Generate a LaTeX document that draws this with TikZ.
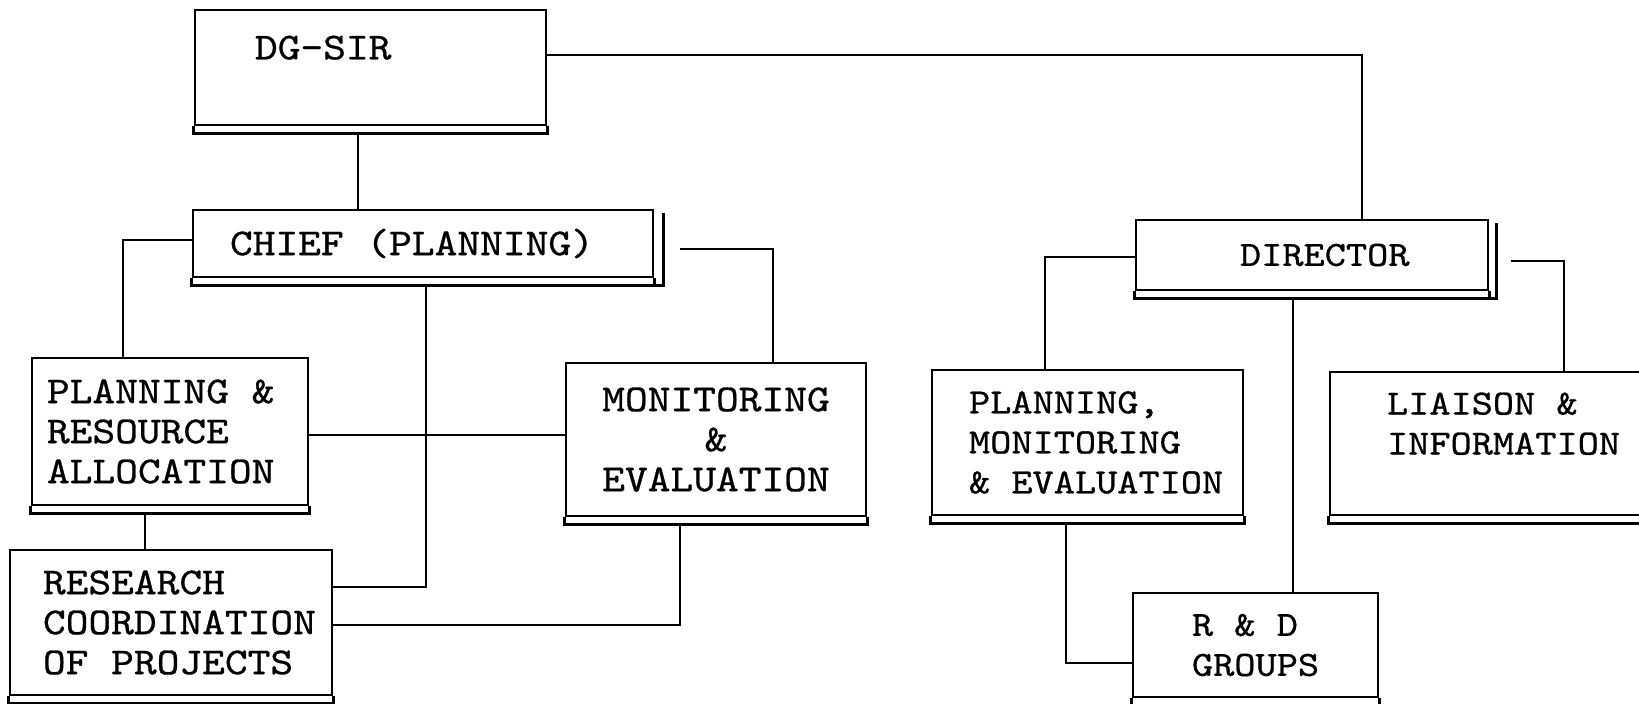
\documentclass[tikz,border=0pt]{standalone}
\usepackage{fontspec}
\newfontfamily\boxfont{lmmono10-regular.otf}[FakeStretch=1.14, FakeBold=0.8]
\usetikzlibrary{positioning}
\hyphenpenalty=10000
\exhyphenpenalty=10000
\newcommand\spc{\hspace*{\fontcharwd\font`\M}}

\tikzset{
  box/.style={draw, rectangle, line width=1.4pt, inner ysep=0pt},
  lbox/.style={box, align=left},
  cbox/.style={box, align=center},
  leftfont/.style={font={\boxfont\fontsize{19}{20}\selectfont}},
  rightfont/.style={font={\boxfont\fontsize{17.7}{20}\selectfont}}
}

\begin{document}
\begin{tikzpicture}
[x=0.5pt, y=-0.5pt, line width=1.4pt]

\useasboundingbox (0,0) rectangle (1639,703);

% Left branch:
\node[lbox, leftfont, text width=115.5pt, inner xsep=30pt, minimum height=57.5pt] (dg) at (370.5,67.5) {DG-SIR\\~};
\node[lbox, leftfont, text width=193pt, inner xsep=18.5pt, minimum height=33.5pt] (chief) at (423,243.5) {CHIEF\spc(PLANNING)};
\node[lbox, leftfont, text width=123pt, inner xsep=7.5pt, minimum height=73.5pt] (plan) at (170,431.5) {PLANNING\spc\&\\RESOURCE\\ALLOCATION};
\node[lbox, leftfont, text width=128pt, inner xsep=16.5pt, minimum height=72.5pt] (research) at (171,622.5) {RESEARCH\\COORDINATION\\OF\spc PROJECTS};
\node[cbox, leftfont, minimum width=150pt, minimum height=76.5pt] (monit) at (716,439.5) {MONITORING\\\&\\EVALUATION};

% Right branch:
\node[lbox, rightfont, text width=72pt, inner xsep=52pt, minimum height=35pt] (director) at (1312,255) {DIRECTOR};
\node[lbox, rightfont, text width=118.5pt, inner xsep=18.5pt, minimum height=72.5pt] (pme) at (1087.5,442.5) {PLANNING,\\MONITORING\\\&\spc EVALUATION};
\node[lbox, rightfont, text width=63.5pt, inner xsep=29.5pt, minimum height=52pt] (rd) at (1255.5,645) {R\spc\&\spc D\\GROUPS};
\node[lbox, rightfont, text width=118pt, inner xsep=28.5pt, minimum height=71.5pt] (liaison) at (1505,443.5) {LIAISON\spc\&\\INFORMATION\\~};

% Double bottom edges:
\foreach \n in {dg,chief,plan,research,monit,director,pme,rd,liaison}
  \draw (\n.south west) -- ++(0,-3.5pt) -| (\n.south east);
% Double right edges:
\draw ([xshift=4.5pt,yshift=-2pt]chief.north east) |- ([yshift=-3.5pt]chief.south east);
\draw ([xshift=3.5pt,yshift=-2pt]director.north east) |- ([yshift=-3.5pt]director.south east);

% Connectors:
\draw ([xshift=-6.25pt,yshift=-3.5pt]dg.south) -- ([xshift=-6.25pt]dg.south |- chief.north);
\draw ([yshift=6.25pt]dg.east) -| ([xshift=25pt]director.north);
\draw ([yshift=1.75pt]chief.west) -| ([xshift=-23.5pt]plan.north);
\draw ([xshift=13pt,yshift=-2.75pt]chief.east) -| ([xshift=28.5pt]monit.north);
\draw ([xshift=1.5pt,yshift=-3.5pt]chief.south) |- ([yshift=17.75pt]research.east);
\draw ([yshift=-1.75pt]plan.east) -- ([yshift=2.25pt]monit.west);
\draw ([xshift=-12.5pt,yshift=-3.5pt]plan.south) -- ([xshift=-12.5pt]plan.south |- research.north);
\draw ([xshift=-18pt,yshift=-3.5pt]monit.south) |- ([yshift=-1.25pt]research.east);
\draw ([yshift=-1pt]director.west) -| ([xshift=-21.25pt]pme.north);
\draw ([xshift=11pt,yshift=-3pt]director.east) -| ([xshift=29.5pt]liaison.north);
\draw ([xshift=-9.5pt,yshift=-3.5pt]director.south) -- ([xshift=-9.5pt]director.south |- rd.north);
\draw ([xshift=-10.75pt,yshift=-3.5pt]pme.south) |- ([yshift=-9pt]rd.west);

\end{tikzpicture}
\end{document}
